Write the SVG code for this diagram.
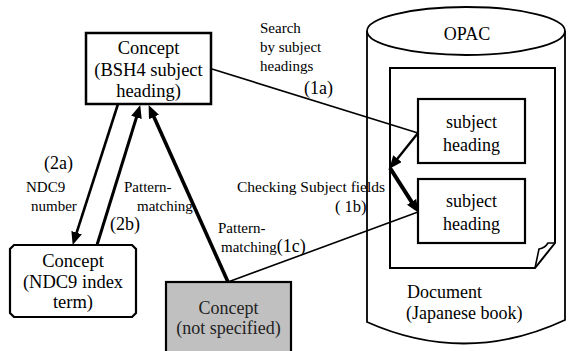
<svg xmlns="http://www.w3.org/2000/svg" width="569" height="351" viewBox="0 0 569 351">
<defs>
<marker id="ah" markerUnits="userSpaceOnUse" markerWidth="13" markerHeight="11" refX="6" refY="5.5" orient="auto">
<path d="M0,0 L13,5.5 L0,11 z" fill="#000"/>
</marker>
</defs>
<rect width="569" height="351" fill="#fff"/>

<g id="opac">
<path fill="none" stroke="#000" stroke-width="1.8" d="M367,31 V322 Q466,366 565,320 V31"/>
<ellipse cx="466" cy="31" rx="99" ry="24" fill="#fff" stroke="#000" stroke-width="1.8"/>
<text text-anchor="middle" x="467" y="40" font-family="Liberation Serif" font-size="18">OPAC</text>
</g>

<g id="document">
<path d="M390,68 H555 V243 L535,268 H390 Z" fill="#fff" stroke="#000" stroke-width="2"/>
<path d="M535,268 L539,249 Q545,248 548,243 L555,243" fill="none" stroke="#000" stroke-width="1.6"/>
<text x="407" y="298" font-family="Liberation Serif" font-size="18">Document</text>
<text x="406" y="319" font-family="Liberation Serif" font-size="18">(Japanese book)</text>
</g>

<g id="sh1">
<rect x="418" y="99" width="107" height="64" fill="#fff" stroke="#000" stroke-width="2.2"/>
<text text-anchor="middle" x="471.5" y="128" font-family="Liberation Serif" font-size="18">subject</text>
<text text-anchor="middle" x="471.5" y="151" font-family="Liberation Serif" font-size="18">heading</text>
</g>

<g id="sh2">
<rect x="418" y="179" width="107" height="64" fill="#fff" stroke="#000" stroke-width="2.2"/>
<text text-anchor="middle" x="471.5" y="207" font-family="Liberation Serif" font-size="18">subject</text>
<text text-anchor="middle" x="471.5" y="230" font-family="Liberation Serif" font-size="18">heading</text>
</g>

<g id="bsh4">
<rect x="86" y="33" width="125" height="71" fill="#fff" stroke="#000" stroke-width="2.5"/>
<text text-anchor="middle" x="148.5" y="54" font-family="Liberation Serif" font-size="18.5">Concept</text>
<text text-anchor="middle" x="148.5" y="76" font-family="Liberation Serif" font-size="18.5">(BSH4 subject</text>
<text text-anchor="middle" x="148.5" y="97" font-family="Liberation Serif" font-size="18.5">heading)</text>
</g>

<g id="ndc9">
<path d="M14,245 H132 L136,249 V313 L132,317 H14 L10,313 V249 Z" fill="#fff" stroke="#000" stroke-width="2.2"/>
<text text-anchor="middle" x="73" y="267" font-family="Liberation Serif" font-size="18.5">Concept</text>
<text text-anchor="middle" x="73" y="288" font-family="Liberation Serif" font-size="18.5">(NDC9 index</text>
<text text-anchor="middle" x="73" y="308" font-family="Liberation Serif" font-size="18.5">term)</text>
</g>

<g id="unspecified">
<rect x="166" y="282" width="125" height="80" fill="#c0c0c0" stroke="#000" stroke-width="2.2"/>
<text text-anchor="middle" x="228.5" y="314" font-family="Liberation Serif" font-size="18" fill="#222">Concept</text>
<text text-anchor="middle" x="228.5" y="334" font-family="Liberation Serif" font-size="18" fill="#222">(not specified)</text>
</g>

<g id="connectors" fill="none" stroke="#000">
<line stroke-width="1.6" x1="212" y1="69" x2="418" y2="133"/>
<line stroke-width="1.6" x1="228" y1="282" x2="418" y2="212"/>
<line stroke-width="2.4" x1="418" y1="133" x2="393.75" y2="163.3" marker-end="url(#ah)"/>
<line stroke-width="4" x1="390" y1="168" x2="414.8" y2="206.9" marker-end="url(#ah)"/>
<line stroke-width="3.6" x1="228" y1="282" x2="151.5" y2="111.5" marker-end="url(#ah)"/>
<line stroke-width="2.6" x1="118" y1="104" x2="74.8" y2="238.3" marker-end="url(#ah)"/>
<line stroke-width="3" x1="97" y1="245" x2="138.2" y2="111.7" marker-end="url(#ah)"/>
</g>

<g id="labels">
<text x="260" y="33" font-family="Liberation Serif" font-size="15">Search</text>
<text x="260" y="52" font-family="Liberation Serif" font-size="15">by subject</text>
<text x="260" y="71" font-family="Liberation Serif" font-size="15">headings</text>
<text x="304" y="94" font-family="Liberation Serif" font-size="18">(1a)</text>
<text x="44" y="169" font-family="Liberation Serif" font-size="18">(2a)</text>
<text x="26" y="192" font-family="Liberation Serif" font-size="15">NDC9</text>
<text x="31" y="211" font-family="Liberation Serif" font-size="15">number</text>
<text x="124" y="192" font-family="Liberation Serif" font-size="15">Pattern-</text>
<text x="137" y="211" font-family="Liberation Serif" font-size="15">matching</text>
<text x="110" y="230" font-family="Liberation Serif" font-size="18">(2b)</text>
<text x="237" y="192" font-family="Liberation Serif" font-size="15.5">Checking Subject fields</text>
<text x="335" y="212" font-family="Liberation Serif" font-size="16.5">( 1b)</text>
<text x="218" y="233" font-family="Liberation Serif" font-size="15">Pattern-</text>
<text x="221" y="252" font-family="Liberation Serif" font-size="15">matching<tspan font-size="18">(1c)</tspan></text>
</g>
</svg>
